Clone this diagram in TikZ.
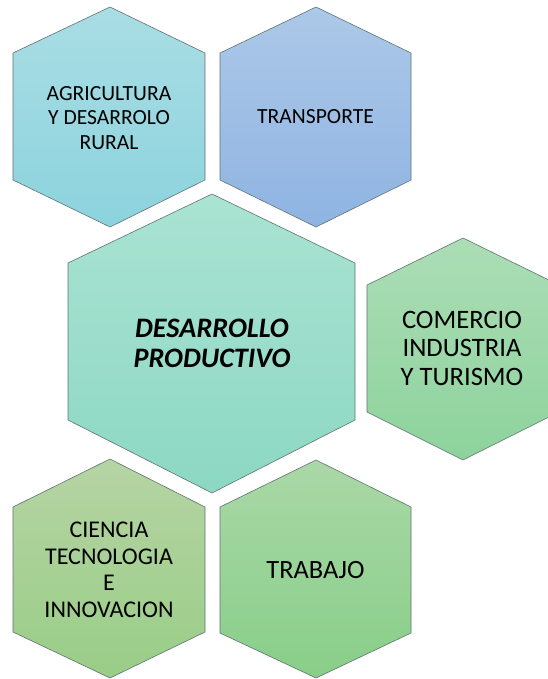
\documentclass[tikz,border=0pt]{standalone}
\usepackage{fontspec}
\setmainfont{Carlito}
\begin{document}
\begin{tikzpicture}[x=1pt,y=-1pt,
  hexbase/.style={draw={rgb,255:red,95;green,115;blue,115}, line width=0.6pt, line join=miter},
  smalltext/.style={align=center, text=black, font=\fontsize{21.6}{24.5}\selectfont},
  midtext/.style={align=center, text=black, font=\fontsize{26.6}{28.5}\selectfont},
  bigtext/.style={align=center, text=black, font=\fontsize{28.2}{30}\selectfont\bfseries\itshape}]
\useasboundingbox (0,0) rectangle (548,679);
\fill[white] (0,0) rectangle (548,679);
% Agricultura
\draw[hexbase, top color={rgb,255:red,170;green,221;blue,228}, bottom color={rgb,255:red,140;green,211;blue,222}]
  (110,7) -- (205,53) -- (205,180) -- (110,227) -- (13,180) -- (13,53) -- cycle;
\node[smalltext] (agri) at (109,118) {AGRICULTURA\\Y DESARROLO\\RURAL};
% Transporte
\draw[hexbase, top color={rgb,255:red,172;green,200;blue,232}, bottom color={rgb,255:red,143;green,180;blue,226}]
  (316,7) -- (411,53) -- (411,180) -- (316,227) -- (220,180) -- (220,53) -- cycle;
\node[smalltext] (trans) at (315.5,117) {TRANSPORTE};
% Center
\draw[hexbase, top color={rgb,255:red,170;green,227;blue,210}, bottom color={rgb,255:red,140;green,216;blue,195}]
  (212,194) -- (355,263) -- (355,420) -- (212,493) -- (68,420) -- (68,263) -- cycle;
\node[bigtext] (dp) at (212,343) {DESARROLLO\\PRODUCTIVO};
% Comercio
\draw[hexbase, top color={rgb,255:red,172;green,221;blue,182}, bottom color={rgb,255:red,141;green,211;blue,156}]
  (463,238) -- (559,285) -- (559,412) -- (463,460) -- (367,412) -- (367,285) -- cycle;
\node[midtext] (com) at (462,348) {COMERCIO\\INDUSTRIA\\Y TURISMO};
% Ciencia
\draw[hexbase, top color={rgb,255:red,182;green,212;blue,164}, bottom color={rgb,255:red,153;green,205;blue,135}]
  (110,459) -- (205,507) -- (205,632) -- (110,678) -- (13,632) -- (13,507) -- cycle;
\node[midtext, font=\fontsize{24}{26.5}\selectfont] (cien) at (109,570) {CIENCIA\\TECNOLOGIA\\E\\INNOVACION};
% Trabajo
\draw[hexbase, top color={rgb,255:red,170;green,216;blue,167}, bottom color={rgb,255:red,136;green,206;blue,136}]
  (316,460) -- (411,507) -- (411,633) -- (316,678) -- (220,633) -- (220,507) -- cycle;
\node[midtext, font=\fontsize{26.4}{28}\selectfont] (trab) at (315.5,570) {TRABAJO};
\end{tikzpicture}
\end{document}
